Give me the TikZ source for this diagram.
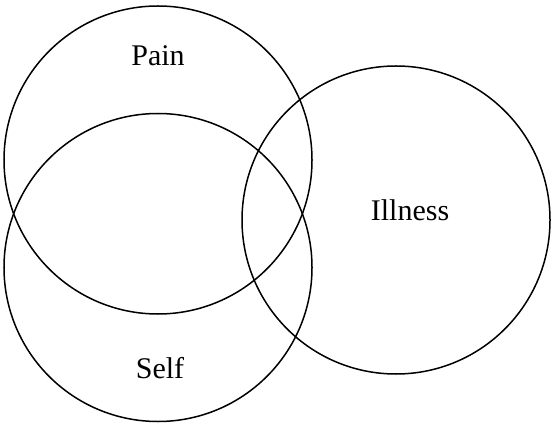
\documentclass[tikz,border=0pt]{standalone}
\usepackage{fontspec}
\setmainfont{Liberation Serif}
\begin{document}
\begin{tikzpicture}[x=1pt,y=1pt,
  ring/.style={draw=black,line width=1.5pt,circle,minimum size=308pt,inner sep=0pt},
  lbl/.style={font=\fontsize{30}{33}\selectfont,inner sep=0pt}]
\useasboundingbox (0,0) rectangle (553,423);
\node[ring] (pain) at (158,263) {};
\node[ring] (self) at (158,155.5) {};
\node[ring] (ill) at (396,203) {};
\node[lbl] (painl) at (158,367) {Pain};
\node[lbl] (selfl) at (160,55) {Self};
\node[lbl] (illl) at (410,213) {Illness};
\end{tikzpicture}
\end{document}
